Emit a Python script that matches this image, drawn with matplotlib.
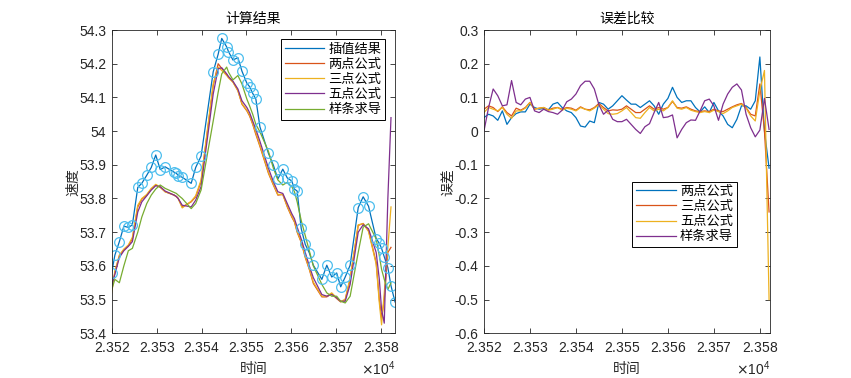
import matplotlib
matplotlib.use('Agg')
import matplotlib.pyplot as plt
from matplotlib.ticker import ScalarFormatter, FuncFormatter

plt.rcParams['font.family'] = ['Liberation Sans', 'Noto Sans CJK SC']
plt.rcParams['axes.unicode_minus'] = False

# ---------------- left panel data ----------------
time = [23520.0, 23520.7, 23521.7, 23522.7, 23523.7, 23524.6, 23525.8, 23526.7, 23527.8, 23528.8,
        23529.8, 23530.8, 23531.9, 23533.9, 23534.4, 23534.8, 23535.7, 23537.7, 23538.7, 23539.9,
        23542.6, 23543.7, 23544.5, 23545.6, 23546.0, 23547.0, 23548.1, 23549.0, 23550.1, 23550.7,
        23551.4, 23552.1, 23553.0, 23554.9, 23556.0, 23557.0, 23558.1, 23559.1, 23560.1, 23560.7,
        23561.3, 23562.2, 23563.1, 23564.0, 23564.9, 23566.8, 23567.9, 23569.0, 23570.1, 23571.0,
        23572.0, 23573.1, 23574.9, 23576.0, 23577.2, 23578.9, 23579.6, 23580.1, 23580.7, 23581.5,
        23582.2, 23583.1]

interp = [53.580, 53.632, 53.672, 53.718, 53.714, 53.722, 53.833, 53.845, 53.869, 53.892,
          53.929, 53.886, 53.894, 53.878, 53.875, 53.868, 53.863, 53.845, 53.892, 53.926,
          54.176, 54.228, 54.275, 54.250, 54.236, 54.211, 54.218, 54.178, 54.142, 54.132,
          54.112, 54.095, 54.013, 53.934, 53.899, 53.858, 53.887, 53.861, 53.852, 53.828,
          53.822, 53.711, 53.664, 53.639, 53.602, 53.560, 53.602, 53.567, 53.579, 53.538,
          53.567, 53.602, 53.773, 53.805, 53.777, 53.681, 53.667, 53.652, 53.627, 53.595,
          53.541, 53.493]

two_pt = [53.533, 53.58, 53.63, 53.648, 53.66, 53.68, 53.775, 53.798, 53.81, 53.828,
          53.84, 53.833, 53.82, 53.81, 53.805, 53.80, 53.775, 53.79, 53.805, 53.85,
          54.135, 54.20, 54.186, 54.168, 54.16, 54.146, 54.12, 54.08, 54.06, 54.045,
          54.02, 53.99, 53.955, 53.875, 53.84, 53.81, 53.812, 53.775, 53.745, 53.73,
          53.70, 53.67, 53.625, 53.59, 53.548, 53.508, 53.508, 53.518, 53.503, 53.493,
          53.50, 53.56, 53.72, 53.726, 53.705, 53.61, 53.50, 53.445, 53.50, 53.64,
          53.655]

three_pt = [53.52, 53.585, 53.632, 53.65, 53.662, 53.685, 53.78, 53.80, 53.812, 53.83,
            53.842, 53.834, 53.82, 53.81, 53.806, 53.80, 53.772, 53.792, 53.808, 53.855,
            54.14, 54.19, 54.18, 54.165, 54.158, 54.145, 54.12, 54.082, 54.062, 54.048,
            54.022, 53.995, 53.958, 53.878, 53.842, 53.812, 53.812, 53.777, 53.748, 53.732,
            53.703, 53.672, 53.628, 53.592, 53.552, 53.51, 53.51, 53.52, 53.505, 53.495,
            53.50, 53.565, 53.722, 53.725, 53.702, 53.605, 53.49, 53.425, 53.52, 53.655,
            53.775]

five_pt = [53.54, 53.575, 53.625, 53.645, 53.658, 53.672, 53.76, 53.79, 53.808, 53.825,
           53.838, 53.835, 53.822, 53.81, 53.806, 53.80, 53.78, 53.775, 53.795, 53.835,
           54.11, 54.185, 54.188, 54.17, 54.162, 54.148, 54.125, 54.09, 54.07, 54.055,
           54.03, 54.005, 53.97, 53.89, 53.85, 53.82, 53.815, 53.785, 53.755, 53.74,
           53.715, 53.68, 53.64, 53.60, 53.565, 53.515, 53.51, 53.515, 53.505, 53.495,
           53.495, 53.545, 53.70, 53.722, 53.71, 53.64, 53.56, 53.47, 53.43, 53.80,
           54.04]

spline = [53.53, 53.56, 53.55, 53.60, 53.645, 53.652, 53.70, 53.745, 53.785, 53.81,
          53.828, 53.84, 53.83, 53.818, 53.815, 53.81, 53.80, 53.77, 53.785, 53.825,
          54.03, 54.115, 54.17, 54.19, 54.175, 54.152, 54.165, 54.14, 54.095, 54.075,
          54.05, 54.02, 53.998, 53.94, 53.89, 53.855, 53.84, 53.848, 53.835, 53.82,
          53.79, 53.735, 53.69, 53.645, 53.60, 53.545, 53.52, 53.51, 53.51, 53.495,
          53.49, 53.51, 53.64, 53.715, 53.725, 53.68, 53.63, 53.59, 53.56, 53.53,
          53.55]

# ---------------- right panel data ----------------
err_time = list(range(23520, 23583))

err_two = [0.04, 0.05, 0.045, 0.032, 0.06, 0.02, 0.04, 0.052, 0.057, 0.057,
           0.08, 0.07, 0.065, 0.067, 0.063, 0.08, 0.085, 0.07, 0.06, 0.055,
           0.04, 0.015, 0.012, 0.03, 0.025, 0.085, 0.08, 0.065, 0.075, 0.09,
           0.105, 0.092, 0.08, 0.08, 0.07, 0.08, 0.09, 0.075, 0.05, 0.08,
           0.097, 0.13, 0.1, 0.085, 0.09, 0.09, 0.07, 0.057, 0.072, 0.055,
           0.085, 0.06, 0.045, 0.02, 0.01, 0.035, 0.075, 0.075, 0.065, 0.09,
           0.22, 0.0, -0.11]

err_three = [0.065, 0.075, 0.07, 0.058, 0.072, 0.055, 0.045, 0.068, 0.062, 0.07,
             0.085, 0.065, 0.068, 0.07, 0.063, 0.068, 0.07, 0.065, 0.07, 0.068,
             0.062, 0.072, 0.065, 0.063, 0.07, 0.082, 0.07, 0.06, 0.063, 0.062,
             0.065, 0.075, 0.065, 0.055, 0.055, 0.065, 0.075, 0.065, 0.07, 0.065,
             0.07, 0.088, 0.07, 0.068, 0.072, 0.065, 0.06, 0.058, 0.06, 0.058,
             0.065, 0.06, 0.058, 0.065, 0.072, 0.078, 0.082, 0.07, 0.05, 0.045,
             0.14, 0.0, -0.24]

err_five = [0.055, 0.07, 0.065, 0.06, 0.07, 0.05, 0.038, 0.06, 0.06, 0.068,
            0.085, 0.065, 0.068, 0.07, 0.062, 0.065, 0.07, 0.062, 0.068, 0.065,
            0.06, 0.07, 0.065, 0.06, 0.068, 0.078, 0.065, 0.052, 0.05, 0.052,
            0.06, 0.07, 0.055, 0.04, 0.038, 0.055, 0.07, 0.06, 0.065, 0.06,
            0.07, 0.09, 0.068, 0.065, 0.07, 0.062, 0.058, 0.055, 0.058, 0.055,
            0.062, 0.058, 0.052, 0.06, 0.07, 0.075, 0.08, 0.068, 0.045, 0.03,
            0.12, 0.18, -0.50]

err_spline = [0.0, 0.07, 0.125, 0.105, 0.075, 0.078, 0.15, 0.085, 0.078, 0.095,
              0.1, 0.06, 0.055, 0.065, 0.058, 0.055, 0.05, 0.062, 0.087, 0.095,
              0.11, 0.135, 0.148, 0.148, 0.125, 0.078, 0.05, 0.062, 0.035, 0.028,
              0.028, 0.035, 0.02, 0.005, -0.007, 0.013, 0.022, 0.055, 0.085, 0.04,
              0.042, 0.048, -0.02, 0.005, 0.025, 0.033, 0.032, 0.06, 0.09, 0.095,
              0.075, 0.032, 0.08, 0.11, 0.13, 0.14, 0.122, 0.05, 0.01, -0.017,
              0.003, 0.097, 0.005]

left_labels = ['插值结果', '两点公式', '三点公式', '五点公式', '样条求导']
right_labels = ['两点公式', '三点公式', '五点公式', '样条求导']
xticks = [23520, 23530, 23540, 23550, 23560, 23570, 23580]
left_yticks = [53.4, 53.5, 53.6, 53.7, 53.8, 53.9, 54.0, 54.1, 54.2, 54.3]
right_yticks = [-0.6, -0.5, -0.4, -0.3, -0.2, -0.1, 0.0, 0.1, 0.2, 0.3]

C_BLUE, C_RED, C_YEL, C_PUR, C_GRN, C_CYAN = '#0072BD', '#D95319', '#EDB120', '#7E2F8E', '#77AC30', '#4DBEEE'
AX_COL = '#262626'
LW = 0.9

fig = plt.figure(figsize=(8.51, 3.78), dpi=100)
ax1 = fig.add_axes([0.1313, 0.1183, 0.3329, 0.8023])
ax2 = fig.add_axes([0.5687, 0.1183, 0.3361, 0.8023])


def fmt_y(v, p):
    s = '%g' % round(v, 6)
    return '0' if s == '-0' else s


def style(ax, yticks, ylim, xlim):
    for s in ax.spines.values():
        s.set_color(AX_COL)
        s.set_linewidth(0.6)
    ax.tick_params(direction='in', top=True, right=True, length=3.5, width=0.6,
                   colors=AX_COL, labelsize=10, pad=4)
    ax.tick_params(axis='x', pad=5.5)
    ax.set_xticks(xticks)
    f = ScalarFormatter(useMathText=True)
    f.set_powerlimits((0, 0))
    f.set_useOffset(False)
    ax.xaxis.set_major_formatter(f)
    ax.xaxis.get_offset_text().set_fontsize(10)
    ax.xaxis.get_offset_text().set_color(AX_COL)
    ax.set_yticks(yticks)
    ax.yaxis.set_major_formatter(FuncFormatter(fmt_y))
    ax.set_ylim(*ylim)
    ax.set_xlim(*xlim)


# left panel
n = len(two_pt)
h = []
h += ax1.plot(time, interp, color=C_BLUE, lw=LW)
h += ax1.plot(time[:n], two_pt, color=C_RED, lw=LW)
h += ax1.plot(time[:n], three_pt, color=C_YEL, lw=LW)
h += ax1.plot(time[:n], five_pt, color=C_PUR, lw=LW)
h += ax1.plot(time[:n], spline, color=C_GRN, lw=LW)
ax1.plot(time, interp, 'o', mfc='none', mec=C_CYAN, ms=7, mew=0.9)
style(ax1, left_yticks, (53.4, 54.3), (23520, 23583.1))
ax1.set_title('计算结果', fontsize=10, color='k', pad=5)
ax1.set_xlabel('时间', fontsize=10, color=AX_COL, labelpad=5)
ax1.set_ylabel('速度', fontsize=10, color=AX_COL, labelpad=-1)
leg1 = ax1.legend(h, left_labels, loc='upper right', bbox_to_anchor=(0.965, 0.969),
                  borderaxespad=0, fontsize=9.5, fancybox=False, edgecolor='k',
                  framealpha=1, handlelength=3.0, labelspacing=0.22, borderpad=0.3,
                  handletextpad=0.3)
leg1.get_frame().set_linewidth(0.7)

# right panel
h2 = []
h2 += ax2.plot(err_time, err_two, color=C_BLUE, lw=LW)
h2 += ax2.plot(err_time, err_three, color=C_RED, lw=LW)
h2 += ax2.plot(err_time, err_five, color=C_YEL, lw=LW)
h2 += ax2.plot(err_time, err_spline, color=C_PUR, lw=LW)
style(ax2, right_yticks, (-0.6, 0.3), (23520, 23582.2))
ax2.set_title('误差比较', fontsize=10, color='k', pad=5)
ax2.set_xlabel('时间', fontsize=10, color=AX_COL, labelpad=5)
ax2.set_ylabel('误差', fontsize=10, color=AX_COL, labelpad=-1)
leg2 = ax2.legend(h2, right_labels, loc='upper right', bbox_to_anchor=(0.884, 0.5),
                  borderaxespad=0, fontsize=9.5, fancybox=False, edgecolor='k',
                  framealpha=1, handlelength=3.0, labelspacing=0.22, borderpad=0.3,
                  handletextpad=0.3)
leg2.get_frame().set_linewidth(0.7)

fig.savefig('out.png', dpi=100)
